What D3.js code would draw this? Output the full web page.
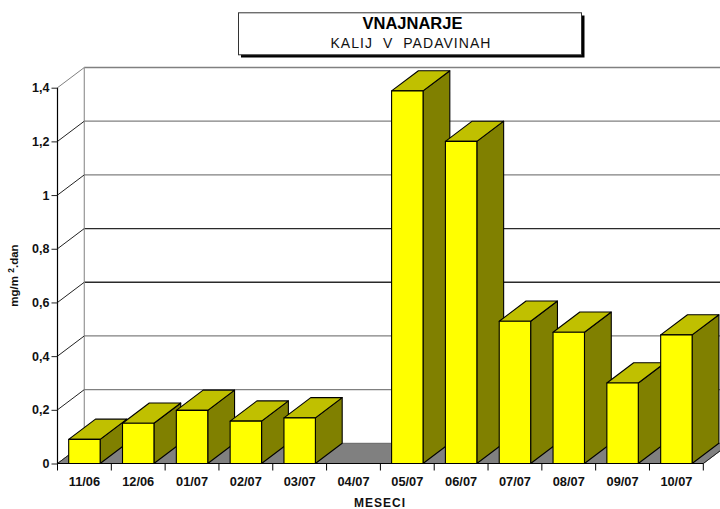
<!DOCTYPE html>
<html><head><meta charset="utf-8">
<script src="https://cdn.jsdelivr.net/npm/d3@7"></script>
<style>html,body{margin:0;padding:0;background:#fff}svg{display:block}text{font-family:"Liberation Sans",Arial,sans-serif}</style>
</head><body><div id="c"></div>
<script>
const categories=["11/06","12/06","01/07","02/07","03/07","04/07","05/07","06/07","07/07","08/07","09/07","10/07"];
const values=[0.09,0.15,0.198,0.158,0.17,0,1.388,1.2,0.53,0.489,0.3,0.479];
const yTicks=[0,0.2,0.4,0.6,0.8,1,1.2,1.4];
const yTickLabels=["0","0,2","0,4","0,6","0,8","1","1,2","1,4"];
const gridColors=["#808080","#808080","#808080","#2a2a2a","#2a2a2a","#808080","#808080","#808080"];
const titleMain="VNAJNARJE", titleSub="KALIJ  V  PADAVINAH", xName="MESECI";

const W=720,H=509,dx=26.8,dy=-20.2;
const svg=d3.select("#c").append("svg").attr("width",W).attr("height",H);
const x=d3.scaleBand().domain(categories).range([57.5,703.3]).paddingInner(0.416).paddingOuter(0.208);
const y=d3.scaleLinear().domain([0,1.4]).range([463.5,87.7]);
const x0=57.5,x1=703.3;
const pts=a=>a.map(p=>p.join(",")).join(" ");

// floor
svg.append("polygon").attr("points",pts([[x0,y(0)],[x1,y(0)],[x1+dx,y(0)+dy],[x0+dx,y(0)+dy]])).attr("fill","#808080").attr("stroke","#666").attr("stroke-width",1);
// wall gridlines
svg.selectAll("line.g").data(yTicks.slice(1)).join("line").attr("x1",x0+dx).attr("x2",W).attr("y1",d=>y(d)+dy).attr("y2",d=>y(d)+dy).attr("stroke",d=>gridColors[yTicks.indexOf(d)]).attr("stroke-width",1.3);
svg.append("line").attr("x1",x0+dx).attr("x2",x0+dx).attr("y1",y(0)+dy).attr("y2",y(1.4)+dy).attr("stroke","#969696").attr("stroke-width",1.2);
// side wall diagonals
svg.selectAll("line.d").data(yTicks).join("line").attr("x1",x0).attr("y1",d=>y(d)).attr("x2",x0+dx).attr("y2",d=>y(d)+dy).attr("stroke",d=>d==1.4?"#808080":"#222").attr("stroke-width",1);

// bars
const g=svg.append("g");
categories.forEach((c,i)=>{
  const v=values[i]; if(!v) return;
  const l=x(c),r=l+x.bandwidth(),t=y(v),b=y(0);
  const bar=g.append("g").attr("stroke","#000").attr("stroke-width",1.1).attr("stroke-linejoin","round");
  bar.append("polygon").attr("points",pts([[r,t],[r+dx,t+dy],[r+dx,b+dy],[r,b]])).attr("fill","#808000");
  bar.append("polygon").attr("points",pts([[l,t],[l+dx,t+dy],[r+dx,t+dy],[r,t]])).attr("fill","#c0c000");
  bar.append("rect").attr("x",l).attr("y",t).attr("width",r-l).attr("height",b-t).attr("fill","#ffff00");
});

// axes
const yAxis=d3.axisLeft(y).tickValues(yTicks).tickFormat((d,i)=>yTickLabels[i]).tickSize(6).tickPadding(2);
const ga=svg.append("g").attr("transform",`translate(${x0},0)`).call(yAxis);
ga.select(".domain").attr("stroke","#000").attr("stroke-width",1.2).attr("d",`M0,${y(1.4)}V${y(0)}`);
ga.selectAll("line").attr("stroke","#222");
ga.selectAll("text").attr("font-size",12.5).attr("font-weight","bold").attr("fill","#111").style("font-family",'"Liberation Sans",Arial,sans-serif');

const xEdge=d3.scaleLinear().domain([0,categories.length]).range([x0,x1]);
svg.append("line").attr("x1",x0).attr("x2",x1).attr("y1",y(0)).attr("y2",y(0)).attr("stroke","#000").attr("stroke-width",1.2);
svg.append("line").attr("x1",x1).attr("y1",y(0)).attr("x2",x1+dx).attr("y2",y(0)+dy).attr("stroke","#222");
svg.selectAll("line.t").data(d3.range(categories.length+1)).join("line").attr("x1",d=>xEdge(d)).attr("x2",d=>xEdge(d)).attr("y1",y(0)).attr("y2",y(0)+7).attr("stroke","#000");
svg.selectAll("text.xl").data(categories).join("text").attr("x",d=>x(d)+x.bandwidth()/2).attr("y",485.8).attr("text-anchor","middle").attr("font-size",12.8).attr("font-weight","bold").attr("fill","#111").text(d=>d);
svg.append("text").attr("x",380).attr("y",506.7).attr("text-anchor","middle").attr("font-size",12).attr("letter-spacing",1).attr("font-weight","bold").attr("fill","#111").text(xName);

// y title
const yt=svg.append("text").attr("transform","translate(17.5,275.5) rotate(-90)").attr("text-anchor","middle").attr("font-size",11.5).attr("font-weight","bold").attr("fill","#111");
yt.append("tspan").text("mg/m ");
yt.append("tspan").attr("dy",-4).attr("font-size",8.5).text("2");
yt.append("tspan").attr("dy",4).text(".dan");

// title box
svg.append("rect").attr("x",241).attr("y",15.5).attr("width",343.5).attr("height",42).attr("fill","#000");
svg.append("rect").attr("x",238.5).attr("y",12.8).attr("width",343).attr("height",42).attr("fill","#fff").attr("stroke","#333").attr("stroke-width",1);
svg.append("text").attr("x",412.5).attr("y",29.3).attr("text-anchor","middle").attr("font-size",16.5).attr("font-weight","bold").attr("fill","#000").text(titleMain);
svg.append("text").attr("x",411).attr("y",48.3).attr("text-anchor","middle").attr("font-size",14).attr("letter-spacing",1.05).attr("fill","#111").style("white-space","pre").text(titleSub);
</script></body></html>
